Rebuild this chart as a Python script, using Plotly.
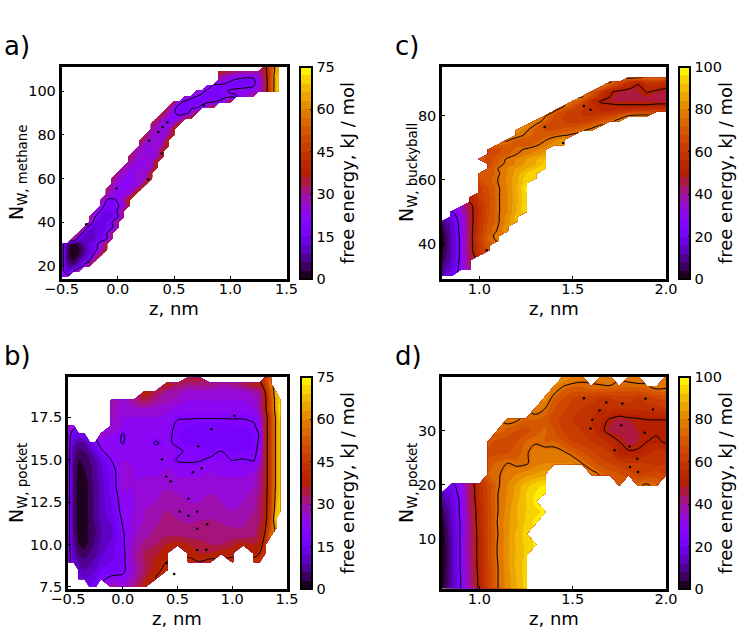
import math
import plotly.graph_objects as go

_ = None

# ---- panel a: (N, first z, free energies on a 0.05 nm z grid)
a_z = [round(-0.5 + 0.05 * i, 2) for i in range(39)] + [1.43]
a_rows = [
    (15, -0.5, [24, 26]),
    (17.5, -0.5, [26, 12, 18, 30]),
    (20, -0.5, [26, 8, 7, 12, 22, 34]),
    (22.5, -0.5, [26, 6, 3, 7, 13, 20, 34]),
    (25, -0.5, [26, 5, 1, 3, 9, 14, 24, 36]),
    (27.5, -0.5, [26, 6, 0, 2, 7, 12, 17, 26, 38]),
    (30, -0.5, [28, 8, 2, 4, 9, 13, 17, 24, 36]),
    (32.5, -0.4, [36, 16, 11, 10, 12, 15, 19, 32]),
    (35, -0.35, [32, 14, 11, 12, 13, 19, 32]),
    (37.5, -0.3, [30, 13, 12, 13, 15, 18, 30]),
    (40, -0.25, [28, 15, 14, 15, 20, 33]),
    (42.5, -0.25, [34, 20, 15, 14, 15, 19, 30]),
    (45, -0.2, [26, 19, 15, 15, 21, 33]),
    (47.5, -0.15, [24, 17, 16, 19, 24, 36]),
    (50, -0.15, [30, 20, 18, 21, 28, 38]),
    (52.5, -0.1, [30, 24, 22, 24, 27, 38]),
    (55, -0.1, [34, 26, 23, 23, 24, 28, 38]),
    (57.5, -0.05, [30, 24, 23, 23, 24, 26, 38]),
    (60, -0.05, [34, 27, 24, 24, 24, 25, 28, 38]),
    (62.5, 0.0, [30, 26, 24, 24, 25, 26, 38]),
    (65, 0.05, [30, 26, 24, 24, 25, 27, 38]),
    (67.5, 0.1, [30, 26, 24, 24, 26, 38]),
    (70, 0.1, [36, 28, 25, 24, 25, 27, 38]),
    (72.5, 0.15, [30, 26, 24, 24, 26, 38]),
    (75, 0.2, [30, 25, 24, 25, 30, 38]),
    (77.5, 0.2, [36, 28, 25, 24, 27, 38]),
    (80, 0.25, [34, 27, 25, 25, 28, 38]),
    (82.5, 0.3, [30, 26, 24, 26, 38]),
    (85, 0.3, [36, 28, 24, 23, 27, 38]),
    (87.5, 0.35, [36, 28, 22, 20, 24, 32, 38]),
    (90, 0.4, [36, 28, 21, 17, 17, 22, 36]),
    (92.5, 0.45, [34, 22, 17, 17, 19, 19, 22, 28, 38]),
    (95, 0.5, [36, 22, 18, 17, 17, 18, 19, 20, 21, 26, 38]),
    (97.5, 0.6, [30, 22, 20, 18, 17, 17, 17, 18, 18, 19, 22, 26, 32]),
    (100, 0.7, [28, 22, 18, 18, 18, 19, 21, 22, 23, 23, 24, 26, 32, 46, 64, 72]),
    (102.5, 0.8, [24, 19, 18, 18, 17, 17, 17, 18, 19, 23, 32, 46, 64, 72]),
    (105, 0.9, [28, 24, 21, 19, 18, 17, 18, 23, 32, 46, 64, 72]),
    (107.5, 0.9, [32, 30, 28, 26, 24, 24, 24, 26, 34, 46, 64, 70]),
    (108.8, 0.9, [38, 36, 34, 32, 32, 32, 30, 30, 34, 46, 62, 68]),
    (111, 1.3, [36, 46, 62, 70]),
]
a_speck_z = [0.44, 0.40, 0.36, 0.28, 0.27, -0.01, 0.39, -0.26, -0.28, 0.765]
a_speck_n = [85.7, 83.6, 81.3, 77.2, 59.5, 55.4, 71.4, 21.9, 39, 93.5]

# ---- panel b: full rows, first column is the row's N
b_z = [-0.5, -0.45, -0.4, -0.35, -0.3, -0.25, -0.2, -0.1, 0, 0.1, 0.2, 0.3, 0.4, 0.5, 0.6, 0.7,
       0.8, 0.9, 1.0, 1.1, 1.2, 1.25, 1.3, 1.35, 1.4, 1.44]
b_rows = [
    (7.5, [_, _, _, _, 15, 18, _, 30, 26, 31, 38]),
    (8, [_, _, 13, 12, 13, 15, 18, 22, 22, 28, 35, 40]),
    (8.5, [_, _, 11, 9, 10, 12, 15, 16, 18, 27, 33, 38, 42]),
    (9, [26, 12, 8, 7, 8, 10, 13, 15, 18, 28, 33, 37, 40, _, 42, 40, 42, _, 42, _, 42, 44]),
    (9.5, [26, 10, 5, 4, 6, 8, 11, 14, 18, 28, 33, 35, 38, _, 38, 36, 36, 38, 38, _, 38, 40, 44]),
    (10, [26, 8, 3, 2, 4, 7, 10, 13, 19, 27, 31, 33, 36, 38, 36, 36, 33, 33, 35, 38, 36, 38, 42]),
    (10.5, [26, 7, 2, 1, 4, 6, 9, 12, 19, 26, 29, 31, 33, 33, 32, 31, 33, 33, 32, 31, 33, 35, 41, 56]),
    (11, [26, 6, 1, 1, 4, 6, 9, 12, 20, 25, 28, 30, 33, 31, 31, 33, 31, 31, 30, 30, 32, 34, 39, 50, 64]),
    (11.5, [26, 6, 1, 1, 4, 7, 10, 13, 21, 25, 27, 29, 31, 30, 29, 29, 30, 29, 29, 29, 31, 33, 37, 48, 70]),
    (12, [26, 6, 1, 1, 4, 7, 10, 15, 22, 24, 27, 28, 30, 29, 28, 28, 28, 28, 27, 28, 30, 32, 37, 47, 66, 72]),
    (12.5, [26, 6, 1, 1, 4, 7, 10, 15, 23, 24, 26, 27, 29, 28, 27, 27, 28, 27, 27, 27, 29, 32, 37, 46, 64, 72]),
    (13, [26, 6, 1, 1, 4, 7, 10, 16, 24, 24, 25, 26, 28, 27, 26, 26, 27, 26, 26, 26, 28, 31, 37, 46, 63, 70]),
    (13.5, [26, 6, 1, 1, 4, 7, 10, 17, 25, 24, 25, 25, 26, 26, 25, 25, 26, 25, 25, 25, 27, 30, 36, 46, 62, 70]),
    (14, [26, 6, 1, 2, 5, 8, 11, 17, 25, 24, 24, 24, 25, 24, 24, 24, 25, 24, 24, 24, 26, 30, 36, 46, 62, 70]),
    (14.5, [26, 6, 2, 3, 5, 8, 11, 18, 25, 24, 23, 23, 24, 22, 22, 22, 23, 23, 22, 22, 23, 28, 36, 46, 62, 70]),
    (15, [26, 7, 3, 4, 6, 9, 13, 20.5, 24, 24, 23, 23, 23, 19.5, 19, 19.5, 21, 21, 19.8, 20.3, 19.5, 24, 36, 46, 62, 70]),
    (15.5, [26, 8, 5, 6, 9, 13, 19, 23, 24, 24, 23, 22, 22, 21, 19, 19, 18, 20, 17, 17.5, 18.5, 22, 36, 46, 62, 70]),
    (16, [26, 11, 8, 9, 13, 18, 22, 23, 19.5, 24, 23, 19.5, 21, 19, 17, 17, 17, 16, 16, 16, 18, 21, 36, 46, 62, 70]),
    (16.5, [26, 14, 14, 17, _, _, 27, 24, 19.5, 24, 23, 22, 22, 18, 16, 15, 15, 15, 16, 16, 18, 20.5, 36, 46, 62, 70]),
    (17, [26, 24, _, _, _, _, _, 25, 24, 24, 23, 22, 22, 19, 18, 17, 17, 17, 18, 18, 19.5, 22, 36, 46, 62, 70]),
    (17.5, [_, _, _, _, _, _, _, 28, 24, 24, 24, 24, 23, 20.5, 20.5, 20.5, 20.5, 20.5, 20.5, 20.5, 21, 25, 36, 46, 62, 72]),
    (18, [_, _, _, _, _, _, _, 28, 25, 26, 27, 26, 25, 23, 22, 22, 22, 22, 22, 22, 24, 28, 38, 50, 64, 75]),
    (18.5, [_, _, _, _, _, _, _, 30, 26, 30, 34, 30, 28, 26, 24, 24, 24, 24, 24, 24, 26, 29, 38, 50, 64, 72]),
    (19, [_, _, _, _, _, _, _, _, _, _, 38, 34, 30, 28, 26, 26, 26, 25, 25, 26, 28, 30, 40, 52, 66]),
    (19.5, [_, _, _, _, _, _, _, _, _, _, _, _, 38, 34, 32, 32, 32, 30, 31, 34, 38, 38, 44, 58]),
    (19.85, [_, _, _, _, _, _, _, _, _, _, _, _, _, _, 36, 36, _, _, _, _, _, _, 46, 56]),
]
b_speck_z = [0.358, 0.398, 0.438, 0.60, 0.6, 0.68, 0.68, 0.4, 0.47, 0.69, 1.02, 0.72, 0.64, 0.81, 0.52, 0.68, 0.77, 0.763]
b_speck_n = [15.03, 14, 13.74, 12.7, 11.7, 10.93, 9.68, 8.9, 8.26, 15.8, 17.6, 14.5, 14.26, 16.8, 11.95, 11.95, 11.2, 9.7]

# ---- panel c
c_z = [round(0.8 + 0.05 * i, 2) for i in range(25)]
c_rows = [
    (30, 0.8, [14, 21]),
    (32, 0.8, [9, 17, 28, 40]),
    (33.5, 0.8, [7, 15, 28, 44]),
    (35, 0.8, [5, 14, 27, 44]),
    (36.5, 0.8, [3, 13, 27, 44, 58]),
    (38, 0.8, [2, 13, 27, 46, 60, 68]),
    (39.5, 0.8, [1, 13, 27, 46, 60, 70]),
    (41, 0.8, [1, 13, 27, 46, 62, 72, 76]),
    (42.5, 0.8, [1, 13, 27, 46, 62, 72, 78]),
    (44, 0.8, [3, 14, 28, 46, 60, 70, 76, 84]),
    (45.5, 0.8, [5, 14, 28, 46, 60, 70, 75, 84]),
    (47, 0.8, [8, 16, 29, 46, 58, 68, 74, 82, 88]),
    (48.5, 0.85, [19, 30, 46, 58, 68, 74, 82, 90]),
    (50, 0.85, [24, 33, 47, 57, 67, 74, 80, 88, 94]),
    (51.5, 0.9, [36, 47, 57, 67, 74, 80, 88, 96]),
    (53, 0.95, [50, 60, 67, 74, 80, 87, 95]),
    (54.5, 0.95, [52, 61, 67, 74, 80, 87, 96]),
    (56, 1.0, [62, 68, 74, 80, 87, 96]),
    (57.5, 1.0, [62, 68, 74, 80, 88, 97]),
    (59, 1.0, [66, 70, 75, 81, 87, 94]),
    (60.5, 1.0, [68, 71, 75, 81, 87, 94, 96]),
    (62, 1.0, [70, 69, 74, 80, 86, 92, 96]),
    (63.5, 1.05, [68, 75, 80, 85, 88, 92, 95]),
    (65, 1.05, [66, 72, 77, 81, 85, 88, 93]),
    (66.5, 1.0, [72, 66, 71, 76, 80, 84, 87, 92]),
    (68, 1.05, [66, 68, 71, 75, 79, 82, 86]),
    (69.5, 1.05, [66, 67, 70, 73, 76, 79, 82]),
    (71, 1.1, [72, 72, 71, 70, 73, 78, 82, 86]),
    (72.5, 1.15, [76, 72, 70, 70, 74, 79, 84]),
    (74, 1.2, [78, 74, 71, 70, 72, 74, 76]),
    (75.5, 1.2, [82, 76, 71, 68, 68, 70, 72, 74, 77]),
    (77, 1.25, [82, 74, 68, 66, 66, 66, 68, 72, 76]),
    (78.5, 1.3, [80, 73, 66, 64, 62, 62, 64, 68, 72, 78]),
    (80, 1.35, [76, 68, 64, 62, 60, 60, 62, 64, 70, 76, 78, 78]),
    (81.5, 1.4, [76, 66, 62, 60, 58, 56, 56, 58, 60, 62, 62, 62, 64]),
    (83, 1.45, [76, 68, 62, 58, 54, 52, 51, 51, 51, 51, 52, 52]),
    (84.5, 1.5, [74, 68, 56, 49, 48, 48, 48, 48, 48, 48, 48]),
    (86, 1.55, [76, 66, 56, 50, 46, 44, 46, 48, 47, 47]),
    (87.5, 1.6, [70, 60, 51, 48, 47, 48, 50.5, 48, 47]),
    (89, 1.65, [74, 64, 56, 52, 48, 54, 54, 51]),
    (90.5, 1.7, [76, 66, 58, 52, 60, 60, 56]),
    (92, 1.8, [78, 76, 74, 75, 74]),
]
c_speck_z = [1.596, 1.56, 1.35, 1.448, 1.04]
c_speck_n = [81.9, 83.1, 76.5, 71.5, 38]

# ---- panel d
d_z = [round(0.8 + 0.05 * i, 2) for i in range(25)]
d_rows = [
    (0.9, 0.8, [2, 12, 25, 40, 52, 64, 75, 82, 88, 94]),
    (3, 0.8, [1, 11, 25, 41, 52, 64, 75, 82, 88, 94]),
    (5, 0.8, [0, 11, 26, 41, 53, 64, 75, 83, 89, 94]),
    (7, 0.8, [0, 11, 26, 42, 53, 65, 76, 83, 89, 93]),
    (9, 0.8, [0, 11, 26, 42, 53, 65, 76, 83, 89, 93, 97]),
    (11, 0.8, [1, 12, 26, 42, 53, 65, 75, 83, 89, 94]),
    (13, 0.8, [2, 13, 26, 42, 54, 65, 76, 83, 87, 93, 97]),
    (15, 0.8, [5, 14, 27, 43, 54, 65, 75, 82, 88, 92, 95, 97]),
    (17, 0.8, [10, 16, 27, 44, 55, 66, 75, 81, 87, 92, 97]),
    (18.5, 0.8, [13, 18, 29, 44, 56, 66, 75, 80, 86, 92, 96, 98]),
    (20, 0.85, [22, 30, 45, 56, 66, 74, 80, 85, 90, 94, 96, _, _, _, _, _, _, _, 72, _, 74, 76, 72]),
    (22, 1.05, [72, 74, 78, 80, 82, 84, 86, _, _, _, _, 78, 74, 70, 68, 66, 62, 64, 66, 62]),
    (24, 1.05, [70, 73, 75, 73, 74, 78, 80, 80, 80, 80, 75, 70, 66, 64, 62, 60, 60, 60, 58, 60, 60]),
    (26, 1.05, [66, 66, 67, 70, 74, 78, 78, 78, 76, 72, 68, 65, 62, 60, 51, 51, 51, 55, 58, 56]),
    (28, 1.05, [70, 66, 66, 68, 72, 74, 72, 72, 68, 64, 62, 60, 58, 55, 50, 46, 48, 50, 51, 49]),
    (30, 1.1, [74, 70, 68, 66, 70, 73, 68, 64, 62, 60, 58, 52, 47, 46, 45, 48, 50, 49, 48]),
    (32, 1.15, [78, 76, 72, 72, 70, 66, 62, 60, 58, 56, 53, 49, 47, 48, 49, 50, 50, 50]),
    (34, 1.3, [78, 75, 68, 65, 62, 60, 58, 56, 58, 56, 58, 56, 58, 58, 60]),
    (36, 1.35, [82, 72, 68, 64, 62, 62, 60, 60, 62, 62, 60, 62, 64, 66]),
    (38, 1.4, [80, 74, 72, 72, 74, 74, 74, 72, 72, 72, 74, 77, 76]),
    (39.9, 1.45, [84, 80, 78, _, 78, 80, _, 78, 80, _, _, 80]),
]
d_speck_z = [1.68, 1.766, 1.644, 1.605, 1.596, 1.76, 1.886, 1.805, 1.725, 1.846, 1.85, 1.807, 1.89, 1.93, 1.56]
d_speck_n = [35.2, 35, 33.7, 32, 30.4, 31, 29.6, 27.1, 26.4, 24.8, 22.4, 23.3, 35.9, 33.9, 36]

panel_labels = ["a)", "c)", "b)", "d)"]
a_ticks_x = [-0.5, 0.0, 0.5, 1.0, 1.5]
c_ticks_x = [1.0, 1.5, 2.0]
a_ticks_y = [20, 40, 60, 80, 100]
b_ticks_y = [7.5, 10.0, 12.5, 15.0, 17.5]
c_ticks_y = [40, 60, 80]
d_ticks_y = [10, 20, 30]


def gnuplot_scale(n=40):
    out = []
    for i in range(n + 1):
        t = i / n
        r = math.sqrt(t)
        g = t ** 3
        b = max(0.0, math.sin(2 * math.pi * t))
        out.append([t, f"rgb({round(r*255)},{round(g*255)},{round(b*255)})"])
    return out


CS = gnuplot_scale()
W, H = 748, 634
FONT = "DejaVu Sans"


def sparse_grid(z_cols, rows):
    grid = []
    for _n, start, vals in rows:
        i0 = min(range(len(z_cols)), key=lambda k: abs(z_cols[k] - start))
        row = [None] * len(z_cols)
        for k, v in enumerate(vals):
            if i0 + k < len(z_cols):
                row[i0 + k] = v
        grid.append(row)
    return [r[0] for r in rows], grid


def full_grid(z_cols, rows):
    return [r[0] for r in rows], [(r[1] + [None] * len(z_cols))[: len(z_cols)] for r in rows]


a_n, a_grid = sparse_grid(a_z, a_rows)
b_n, b_grid = full_grid(b_z, b_rows)
c_n, c_grid = sparse_grid(c_z, c_rows)
d_n, d_grid = sparse_grid(d_z, d_rows)

fig = go.Figure()

panels = [
    dict(s="", x=a_z, y=a_n, z=a_grid, box=(61.5, 286.5, 67, 279), cb=(300, 312), vmax=75, step=3,
         lines=(20, 60, 20), xr=[-0.5, 1.5], yr=[14, 111], xt=a_ticks_x, yt=a_ticks_y, yf="d",
         ytitle="N<sub>W, methane</sub>", dtick=15, xtp=(174, 308), ytp=(17, 173),
         sx=a_speck_z, sy=a_speck_n),
    dict(s="2", x=b_z, y=b_n, z=b_grid, box=(68, 287, 377, 589), cb=(301, 312), vmax=75, step=3,
         lines=(20, 60, 20), xr=[-0.5, 1.5], yr=[7.38, 19.88], xt=a_ticks_x, yt=b_ticks_y, yf=".1f",
         ytitle="N<sub>W, pocket</sub>", dtick=15, xtp=(177, 618), ytp=(17, 483),
         sx=b_speck_z, sy=b_speck_n),
    dict(s="3", x=c_z, y=c_n, z=c_grid, box=(442, 666, 67, 279), cb=(679, 690), vmax=100, step=4,
         lines=(25, 75, 25), xr=[0.8, 2.0], yr=[29, 95.3], xt=c_ticks_x, yt=c_ticks_y, yf="d",
         ytitle="N<sub>W, buckyball</sub>", dtick=20, xtp=(554, 308), ytp=(407, 172),
         sx=c_speck_z, sy=c_speck_n),
    dict(s="4", x=d_z, y=d_n, z=d_grid, box=(442, 666, 377, 589), cb=(679, 690), vmax=100, step=4,
         lines=(25, 75, 25), xr=[0.8, 2.0], yr=[0.8, 39.9], xt=c_ticks_x, yt=d_ticks_y, yf="d",
         ytitle="N<sub>W, pocket</sub>", dtick=20, xtp=(554, 618), ytp=(407, 483),
         sx=d_speck_z, sy=d_speck_n),
]

layout = {}
annotations = []
for p in panels:
    x0, x1, y0, y1 = p["box"]
    xa, ya = "x" + p["s"], "y" + p["s"]
    fig.add_trace(go.Contour(
        x=p["x"], y=p["y"], z=p["z"], xaxis=xa, yaxis=ya,
        colorscale=CS, zmin=0, zmax=p["vmax"], connectgaps=False,
        autocontour=False,
        contours=dict(start=0, end=p["vmax"], size=p["step"], coloring="fill", showlines=False),
        line=dict(width=0), hoverinfo="skip",
        colorbar=dict(
            x=p["cb"][0] / W, xanchor="left", xpad=0, ypad=0,
            y=1 - (y0 + y1) / 2 / H, yanchor="middle",
            len=(y1 - y0) / H, lenmode="fraction",
            thickness=p["cb"][1] - p["cb"][0], thicknessmode="pixels",
            outlinewidth=2, outlinecolor="black", borderwidth=0,
            tickmode="linear", tick0=0, dtick=p["dtick"],
            ticks="inside", ticklen=3, tickwidth=1, tickcolor="black",
            tickfont=dict(family=FONT, size=14.5, color="black"),
            title=dict(text="free energy, kJ / mol", side="right",
                       font=dict(family=FONT, size=18, color="black")),
        ),
    ))
    fig.add_trace(go.Contour(
        x=p["x"], y=p["y"], z=p["z"], xaxis=xa, yaxis=ya,
        showscale=False, connectgaps=False, autocontour=False,
        contours=dict(start=p["lines"][0], end=p["lines"][1], size=p["lines"][2], coloring="none"),
        line=dict(color="black", width=1), hoverinfo="skip",
    ))
    fig.add_trace(go.Scatter(
        x=p["sx"], y=p["sy"], xaxis=xa, yaxis=ya, mode="markers", hoverinfo="skip",
        marker=dict(color="black", size=2.5, symbol="circle", line=dict(width=0)),
    ))
    xkey, ykey = "xaxis" + p["s"], "yaxis" + p["s"]
    layout[xkey] = dict(
        domain=[x0 / W, x1 / W], range=p["xr"], anchor=ya, tickmode="array", tickvals=p["xt"],
        tickformat=".1f", ticks="inside", ticklen=3, tickwidth=1, tickcolor="black", automargin=False,
        ticklabelstandoff=-5,
        showline=True, linewidth=2.5, linecolor="black", mirror=True, showgrid=False, zeroline=False,
        tickfont=dict(family=FONT, size=14.5, color="black"),
    )
    layout[ykey] = dict(
        domain=[1 - y1 / H, 1 - y0 / H], range=p["yr"], anchor=xa, tickmode="array", tickvals=p["yt"],
        tickformat=p["yf"], ticks="inside", ticklen=3, tickwidth=1, tickcolor="black", automargin=False,
        showline=True, linewidth=2.5, linecolor="black", mirror=True, showgrid=False, zeroline=False,
        tickfont=dict(family=FONT, size=14.5, color="black"),
    )
    annotations.append(dict(text="z, nm", x=p["xtp"][0] / W, y=1 - p["xtp"][1] / H, xref="paper", yref="paper",
                            showarrow=False, xanchor="center", yanchor="middle",
                            font=dict(family=FONT, size=18, color="black")))
    annotations.append(dict(text=p["ytitle"], x=p["ytp"][0] / W, y=1 - p["ytp"][1] / H, xref="paper", yref="paper",
                            showarrow=False, xanchor="center", yanchor="middle", textangle=-90,
                            font=dict(family=FONT, size=19, color="black")))

label_pos = [(2, 46), (393, 46), (2, 356), (393, 356)]
annotations += [
    dict(text=t, x=px / W, y=1 - py / H, xref="paper", yref="paper", xanchor="left", yanchor="middle",
         showarrow=False, font=dict(family=FONT, size=26, color="black"))
    for t, (px, py) in zip(panel_labels, label_pos)
]

fig.update_layout(
    width=W, height=H, margin=dict(l=0, r=0, t=0, b=0, autoexpand=False), paper_bgcolor="white",
    plot_bgcolor="white", showlegend=False, annotations=annotations, **layout,
)
fig.write_html("out.html", post_script="document.body.style.margin='0';",
               config={"displayModeBar": False})
